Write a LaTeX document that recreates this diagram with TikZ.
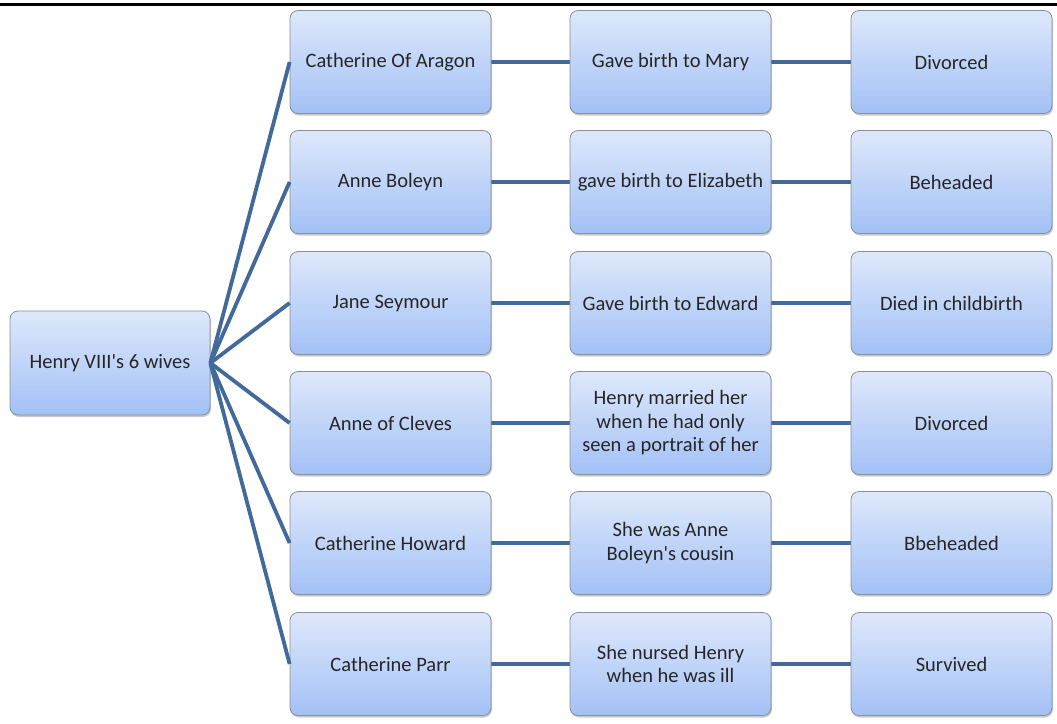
\documentclass[tikz,border=0pt]{standalone}
\usepackage{fontspec}
\setmainfont{Carlito}[Ligatures=TeXOff]
\usetikzlibrary{shadows}
\definecolor{linkc}{HTML}{41699A}
\definecolor{boxtop}{HTML}{DEE8FB}
\definecolor{boxbot}{HTML}{A3C1F6}
\definecolor{boxedge}{HTML}{8A8F99}
\tikzset{
  card/.style={draw=boxedge, line width=0.8pt, rounded corners=8pt, minimum width=201pt, minimum height=103pt,
    top color=boxtop, bottom color=boxbot, align=center, font=\fontsize{20.5}{23.5}\selectfont, text=black!85,
    drop shadow={shadow xshift=1pt, shadow yshift=-2pt, opacity=0.35, fill=black!60}},
  link/.style={draw=linkc, line width=3.8pt}
}
\begin{document}
\begin{tikzpicture}[x=1pt,y=-1pt]
\useasboundingbox (0,0) rectangle (1057,723);
\draw[line width=3pt] (0,4) -- (1057,4);
\node[card, minimum width=200pt, minimum height=104pt] (h) at (110,363) {Henry VIII's 6 wives};
\foreach \i/\y/\a/\b/\c in {
  1/62/{Catherine Of Aragon}/{Gave birth to Mary}/{Divorced},
  2/182/{Anne Boleyn}/{gave birth to Elizabeth}/{Beheaded},
  3/303/{Jane Seymour}/{Gave birth to Edward}/{Died in childbirth},
  4/423/{Anne of Cleves}/{Henry married her\\when he had only\\seen a portrait of her}/{Divorced},
  5/543/{Catherine Howard}/{She was Anne\\Boleyn's cousin}/{Bbeheaded},
  6/664/{Catherine Parr}/{She nursed Henry\\when he was ill}/{Survived}}{
  \draw[link] (390.5,\y) -- (951.5,\y);
  \node[card] (a\i) at (390.5,\y) {\a};
  \node[card] (b\i) at (670.5,\y) {\b};
  \node[card] (c\i) at (951.5,\y) {\c};
  \draw[link] (h.east) -- (a\i.west);
}
\end{tikzpicture}
\end{document}
